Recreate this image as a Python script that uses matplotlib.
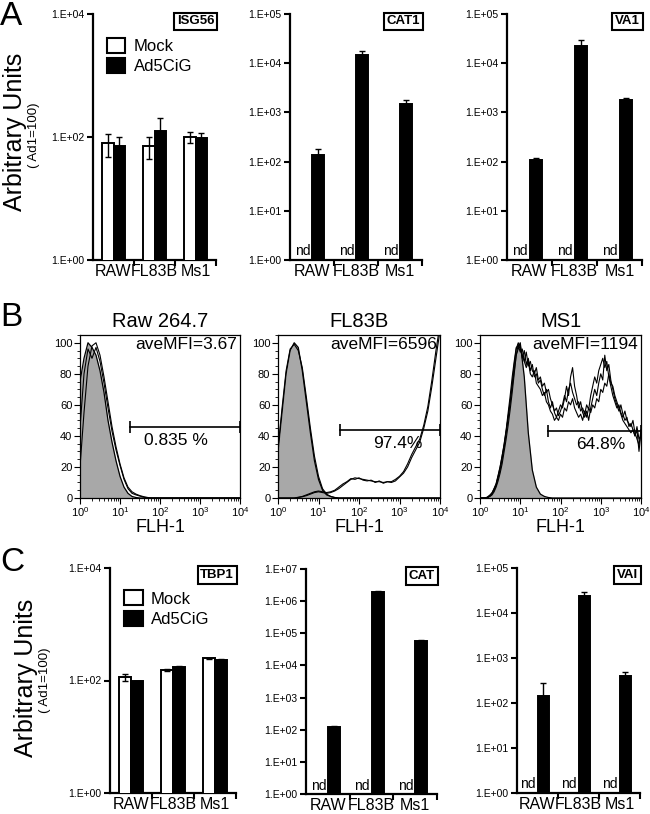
import numpy as np
import matplotlib
matplotlib.use('agg')
from matplotlib import pyplot as plt
from matplotlib.patches import Patch
from matplotlib.ticker import FixedLocator, NullLocator, MultipleLocator, LogLocator, NullFormatter

plt.rcParams['font.family'] = ['Liberation Sans', 'DejaVu Sans']

W, H = 650, 814

# ---------------- data: bar panels (A and C) ----------------
cells = ['RAW', 'FL83B', 'Ms1']

isg56_mock = [80, 72, 100]
isg56_mock_err = [32, 28, 20]
isg56_ad = [72, 125, 98]
isg56_ad_err = [27, 80, 17]

cat1_ad = [138, 15000, 1450]
cat1_ad_err = [42, 2500, 300]

va1_ad = [107, 22000, 1820]
va1_ad_err = [11, 7000, 130]

tbp1_mock = [115, 155, 250]
tbp1_mock_err = [16, 5, 6]
tbp1_ad = [97, 177, 234]
tbp1_ad_err = [3, 3, 12]

cat_ad = [118, 1.9e6, 59000]
cat_ad_err = [15, 1.5e5, 5000]

vai_ad = [141, 24000, 395]
vai_ad_err = [140, 6000, 95]

# ---------------- data: flow histograms (B), % of max ----------------
# 0.1 decade steps, 10^0 .. 10^4
raw_ctrl = [75, 90, 100, 97, 92, 82, 68, 50, 36, 24, 14, 7, 3, 1, 0.3,
            0, 0, 0, 0, 0, 0, 0, 0, 0, 0, 0, 0, 0, 0, 0,
            0, 0, 0, 0, 0, 0, 0, 0, 0, 0, 0]
raw_a = [20, 55, 85, 98, 100, 92, 78, 62, 46, 33, 22, 13, 7, 4, 2.5,
         1.5, 0.8, 0.3, 0, 0, 0, 0, 0, 0, 0, 0, 0, 0, 0, 0,
         0, 0, 0, 0, 0, 0, 0, 0, 0, 0, 0]
raw_b = [45, 80, 96, 90, 97, 88, 74, 58, 43, 31, 21, 12, 6, 3, 2,
         1.2, 0.5, 0, 0, 0, 0, 0, 0, 0, 0, 0, 0, 0, 0, 0,
         0, 0, 0, 0, 0, 0, 0, 0, 0, 0, 0]

fl_ctrl = [30, 55, 80, 95, 100, 97, 82, 62, 42, 24, 12, 5, 2, 1, 0.3,
           0, 0, 0, 0, 0, 0, 0, 0, 0, 0, 0, 0, 0, 0, 0,
           0, 0, 0, 0, 0, 0, 0, 0, 0, 0, 0]
fl_ctrl2 = [32, 58, 82, 96, 99, 95, 84, 65, 45, 27, 14, 6, 2.5, 1, 0.3,
            0, 0, 0, 0, 0, 0, 0, 0, 0, 0, 0, 0, 0, 0, 0,
            0, 0, 0, 0, 0, 0, 0, 0, 0, 0, 0]
fl_a = [0, 0, 0, 0, 0, 0.3, 0.8, 1.5, 2.5, 3.5, 4, 3.5, 3, 3.5, 4.5,
        6, 8, 10, 12, 13, 12.5, 12, 11.5, 11, 10.5, 10.5, 10, 10.5, 10, 11,
        13.5, 16, 20, 26, 31, 36, 45, 56, 72, 90, 108]
fl_b = [0, 0, 0, 0, 0, 0.5, 1, 2, 3, 4, 4.5, 4, 3.5, 4, 5,
        7, 9, 10.5, 12.5, 12, 13, 11.5, 11, 11.5, 10, 11, 9.5, 10.5, 10.5, 12,
        14, 17, 22, 28, 33, 38, 47, 59, 76, 95, 112]

ms_ctrl = [0, 0, 0.5, 3, 9, 20, 34, 52, 72, 92, 100, 78, 42, 18, 7,
           2.5, 1, 0.3, 0, 0, 0, 0, 0, 0, 0, 0, 0, 0, 0, 0,
           0, 0, 0, 0, 0, 0, 0, 0, 0, 0, 0]
# 0.05 decade steps
ms_a = [0, 0, 0, 0, 0.5, 1, 2, 4, 7, 11,
        16, 22, 30, 38, 47, 57, 68, 80, 92, 99,
        96, 92, 88, 94, 85, 88, 82, 80, 84, 76,
        78, 72, 74, 68, 70, 64, 60, 56, 58, 53,
        56, 60, 66, 62, 70, 74, 68, 64, 60, 62,
        56, 58, 54, 60, 57, 66, 72, 78, 74, 82,
        86, 90, 84, 88, 78, 72, 66, 62, 58, 60,
        55, 52, 56, 50, 48, 46, 50, 42, 38, 34,
        44]
ms_b = [0, 0, 0, 0, 0.5, 1.5, 3, 5, 8, 13,
        18, 25, 33, 42, 52, 62, 74, 86, 96, 100,
        98, 90, 95, 86, 90, 82, 86, 78, 80, 74,
        76, 70, 66, 70, 62, 58, 62, 55, 52, 56,
        60, 58, 64, 72, 66, 78, 84, 72, 66, 58,
        62, 55, 52, 56, 50, 58, 64, 70, 66, 74,
        80, 76, 92, 82, 86, 76, 70, 64, 60, 56,
        60, 54, 50, 52, 46, 48, 44, 40, 44, 30,
        42]
ms_c = [0, 0, 0, 0, 1, 2, 3.5, 6, 9, 14,
        20, 27, 35, 44, 55, 66, 78, 88, 97, 98,
        94, 96, 88, 84, 88, 80, 78, 82, 74, 72,
        70, 66, 68, 62, 60, 56, 54, 50, 52, 50,
        54, 52, 58, 56, 62, 60, 64, 58, 55, 52,
        54, 50, 56, 52, 58, 55, 60, 58, 64, 62,
        70, 68, 74, 72, 80, 74, 72, 66, 62, 58,
        54, 50, 48, 46, 44, 42, 44, 40, 46, 38,
        40]


def px_axes(fig, l, t, r, b):
    return fig.add_axes([l / W, 1 - b / H, (r - l) / W, (b - t) / H])


def bar_panel(ax, top, title, ad, ad_err, mock=None, mock_err=None, legend=False, ystep=1):
    x = np.arange(len(cells))
    w = 0.28
    ekw = dict(lw=1, capthick=1, ecolor='black')
    if mock is not None:
        ax.bar(x - w / 2, mock, w, color='white', edgecolor='black', lw=1.4,
               yerr=mock_err, capsize=2.5, error_kw=ekw, zorder=3)
    else:
        for xi in x:
            ax.text(xi - 0.04, 1.1, 'nd', ha='right', va='bottom', fontsize=10)
    ax.bar(x + w / 2, ad, w, color='black', edgecolor='black', lw=1.4,
           yerr=[[0] * len(ad), ad_err], capsize=2.5, error_kw=ekw, zorder=3)
    ax.set_yscale('log')
    ax.set_ylim(1, top)
    ax.set_xlim(-0.5, 2.5)
    ks = list(range(0, int(round(np.log10(top))) + 1, ystep))
    ax.yaxis.set_major_locator(FixedLocator([10.0 ** k for k in ks]))
    ax.yaxis.set_minor_locator(NullLocator())
    ax.set_yticklabels(['1.E+%02d' % k for k in ks], fontsize=7.5)
    ax.set_xticks(x)
    ax.set_xticklabels(cells, fontsize=11.5)
    ax.xaxis.set_minor_locator(FixedLocator([0.5, 1.5, 2.5]))
    ax.tick_params(axis='x', which='major', length=0, pad=3)
    ax.tick_params(axis='x', which='minor', length=4, width=1.5)
    ax.tick_params(axis='y', length=4, width=1.5, pad=2)
    for s in ['top', 'right']:
        ax.spines[s].set_visible(False)
    for s in ['left', 'bottom']:
        ax.spines[s].set_linewidth(1.6)
    ax.text(0.985, 0.995, title, transform=ax.transAxes, ha='right', va='top',
            fontsize=9.5, fontweight='bold',
            bbox=dict(boxstyle='square,pad=0.2', fc='white', ec='black', lw=1.5))
    if legend:
        h = [Patch(fc='white', ec='black', lw=1.5, label='Mock'),
             Patch(fc='black', ec='black', lw=1.5, label='Ad5CiG')]
        ax.legend(handles=h, loc='upper left', bbox_to_anchor=(0.06, 0.93), frameon=False,
                  fontsize=12, handlelength=1.1, handleheight=1.0, handletextpad=0.5,
                  labelspacing=0.25, borderaxespad=0)


def hist_panel(ax, title, ctrl, ctrl_lines, samples, mfi, gate_lo, gate_y, pct, pct_x):
    xc = 10 ** np.linspace(0, 4, len(ctrl))
    ax.fill_between(xc, ctrl, color='#a8a8a8', lw=0, zorder=1)
    ax.plot(xc, ctrl, color='black', lw=0.9, zorder=2)
    for c in ctrl_lines:
        ax.plot(10 ** np.linspace(0, 4, len(c)), c, color='black', lw=0.8, zorder=2)
    for s in samples:
        ax.plot(10 ** np.linspace(0, 4, len(s)), s, color='black', lw=0.8, zorder=3)
    ax.set_xscale('log')
    ax.set_xlim(1, 1e4)
    ax.set_ylim(0, 105)
    ax.xaxis.set_major_locator(LogLocator(base=10, numticks=10))
    ax.xaxis.set_minor_locator(LogLocator(base=10, subs=np.arange(2, 10), numticks=10))
    ax.xaxis.set_minor_formatter(NullFormatter())
    ax.set_yticks([0, 20, 40, 60, 80, 100])
    ax.yaxis.set_minor_locator(MultipleLocator(5))
    ax.tick_params(labelsize=8, length=4, width=0.8, pad=1.5)
    ax.tick_params(which='minor', length=2, width=0.6)
    for s in ax.spines.values():
        s.set_linewidth(0.9)
    ax.set_title(title, fontsize=14.5, pad=6)
    ax.set_xlabel('FLH-1', fontsize=13, labelpad=0)
    ax.text(0.98, 0.985, mfi, transform=ax.transAxes, ha='right', va='top', fontsize=12.5)
    ax.plot([gate_lo, 1e4], [gate_y, gate_y], color='black', lw=1.2, marker='|',
            markersize=8, markeredgewidth=1.2, zorder=4)
    ax.text(pct_x, gate_y - 4, pct, ha='left', va='top', fontsize=12.5, zorder=5)


fig = plt.figure(figsize=(6.5, 8.14), dpi=100)

# ---- A ----
a1 = px_axes(fig, 93, 14, 216, 260)
bar_panel(a1, 1e4, 'ISG56', isg56_ad, isg56_ad_err, isg56_mock, isg56_mock_err, legend=True, ystep=2)
a2 = px_axes(fig, 290, 14, 422, 260)
bar_panel(a2, 1e5, 'CAT1', cat1_ad, cat1_ad_err)
a3 = px_axes(fig, 507, 14, 642, 260)
bar_panel(a3, 1e5, 'VA1', va1_ad, va1_ad_err)

fig.text(15 / W, 1 - 132 / H, 'Arbitrary Units', rotation=90, ha='center', va='center', fontsize=18)
fig.text(34 / W, 1 - 135 / H, '( Ad1=100)', rotation=90, ha='center', va='center', fontsize=9.5)

# ---- B ----
b1 = px_axes(fig, 80, 335, 240, 498)
hist_panel(b1, 'Raw 264.7', raw_ctrl, [], [raw_a, raw_b], 'aveMFI=3.67', 10 ** 1.25, 46, '0.835 %', 10 ** 1.6)
b2 = px_axes(fig, 278, 335, 440, 498)
hist_panel(b2, 'FL83B', fl_ctrl, [fl_ctrl2], [fl_a, fl_b], 'aveMFI=6596', 10 ** 1.53, 44, '97.4%', 10 ** 2.35)
b3 = px_axes(fig, 480, 335, 641, 498)
hist_panel(b3, 'MS1', ms_ctrl, [], [ms_a, ms_b, ms_c], 'aveMFI=1194', 10 ** 1.69, 43, '64.8%', 10 ** 2.4)

# ---- C ----
c1 = px_axes(fig, 110, 568, 236, 793)
bar_panel(c1, 1e4, 'TBP1', tbp1_ad, tbp1_ad_err, tbp1_mock, tbp1_mock_err, legend=True, ystep=2)
c2 = px_axes(fig, 306, 569, 437, 794)
bar_panel(c2, 1e7, 'CAT', cat_ad, cat_ad_err)
c3 = px_axes(fig, 517, 568, 640, 793)
bar_panel(c3, 1e5, 'VAI', vai_ad, vai_ad_err)

fig.text(26 / W, 1 - 678 / H, 'Arbitrary Units', rotation=90, ha='center', va='center', fontsize=18)
fig.text(45 / W, 1 - 680 / H, '( Ad1=100)', rotation=90, ha='center', va='center', fontsize=9.5)

# panel letters
fig.text(0.0, 1 - 1 / H, 'A', fontsize=24, va='top', ha='left')
fig.text(0.0, 1 - 302 / H, 'B', fontsize=24, va='top', ha='left')
fig.text(0.0, 1 - 547 / H, 'C', fontsize=24, va='top', ha='left')

fig.savefig('out.png', dpi=100)
